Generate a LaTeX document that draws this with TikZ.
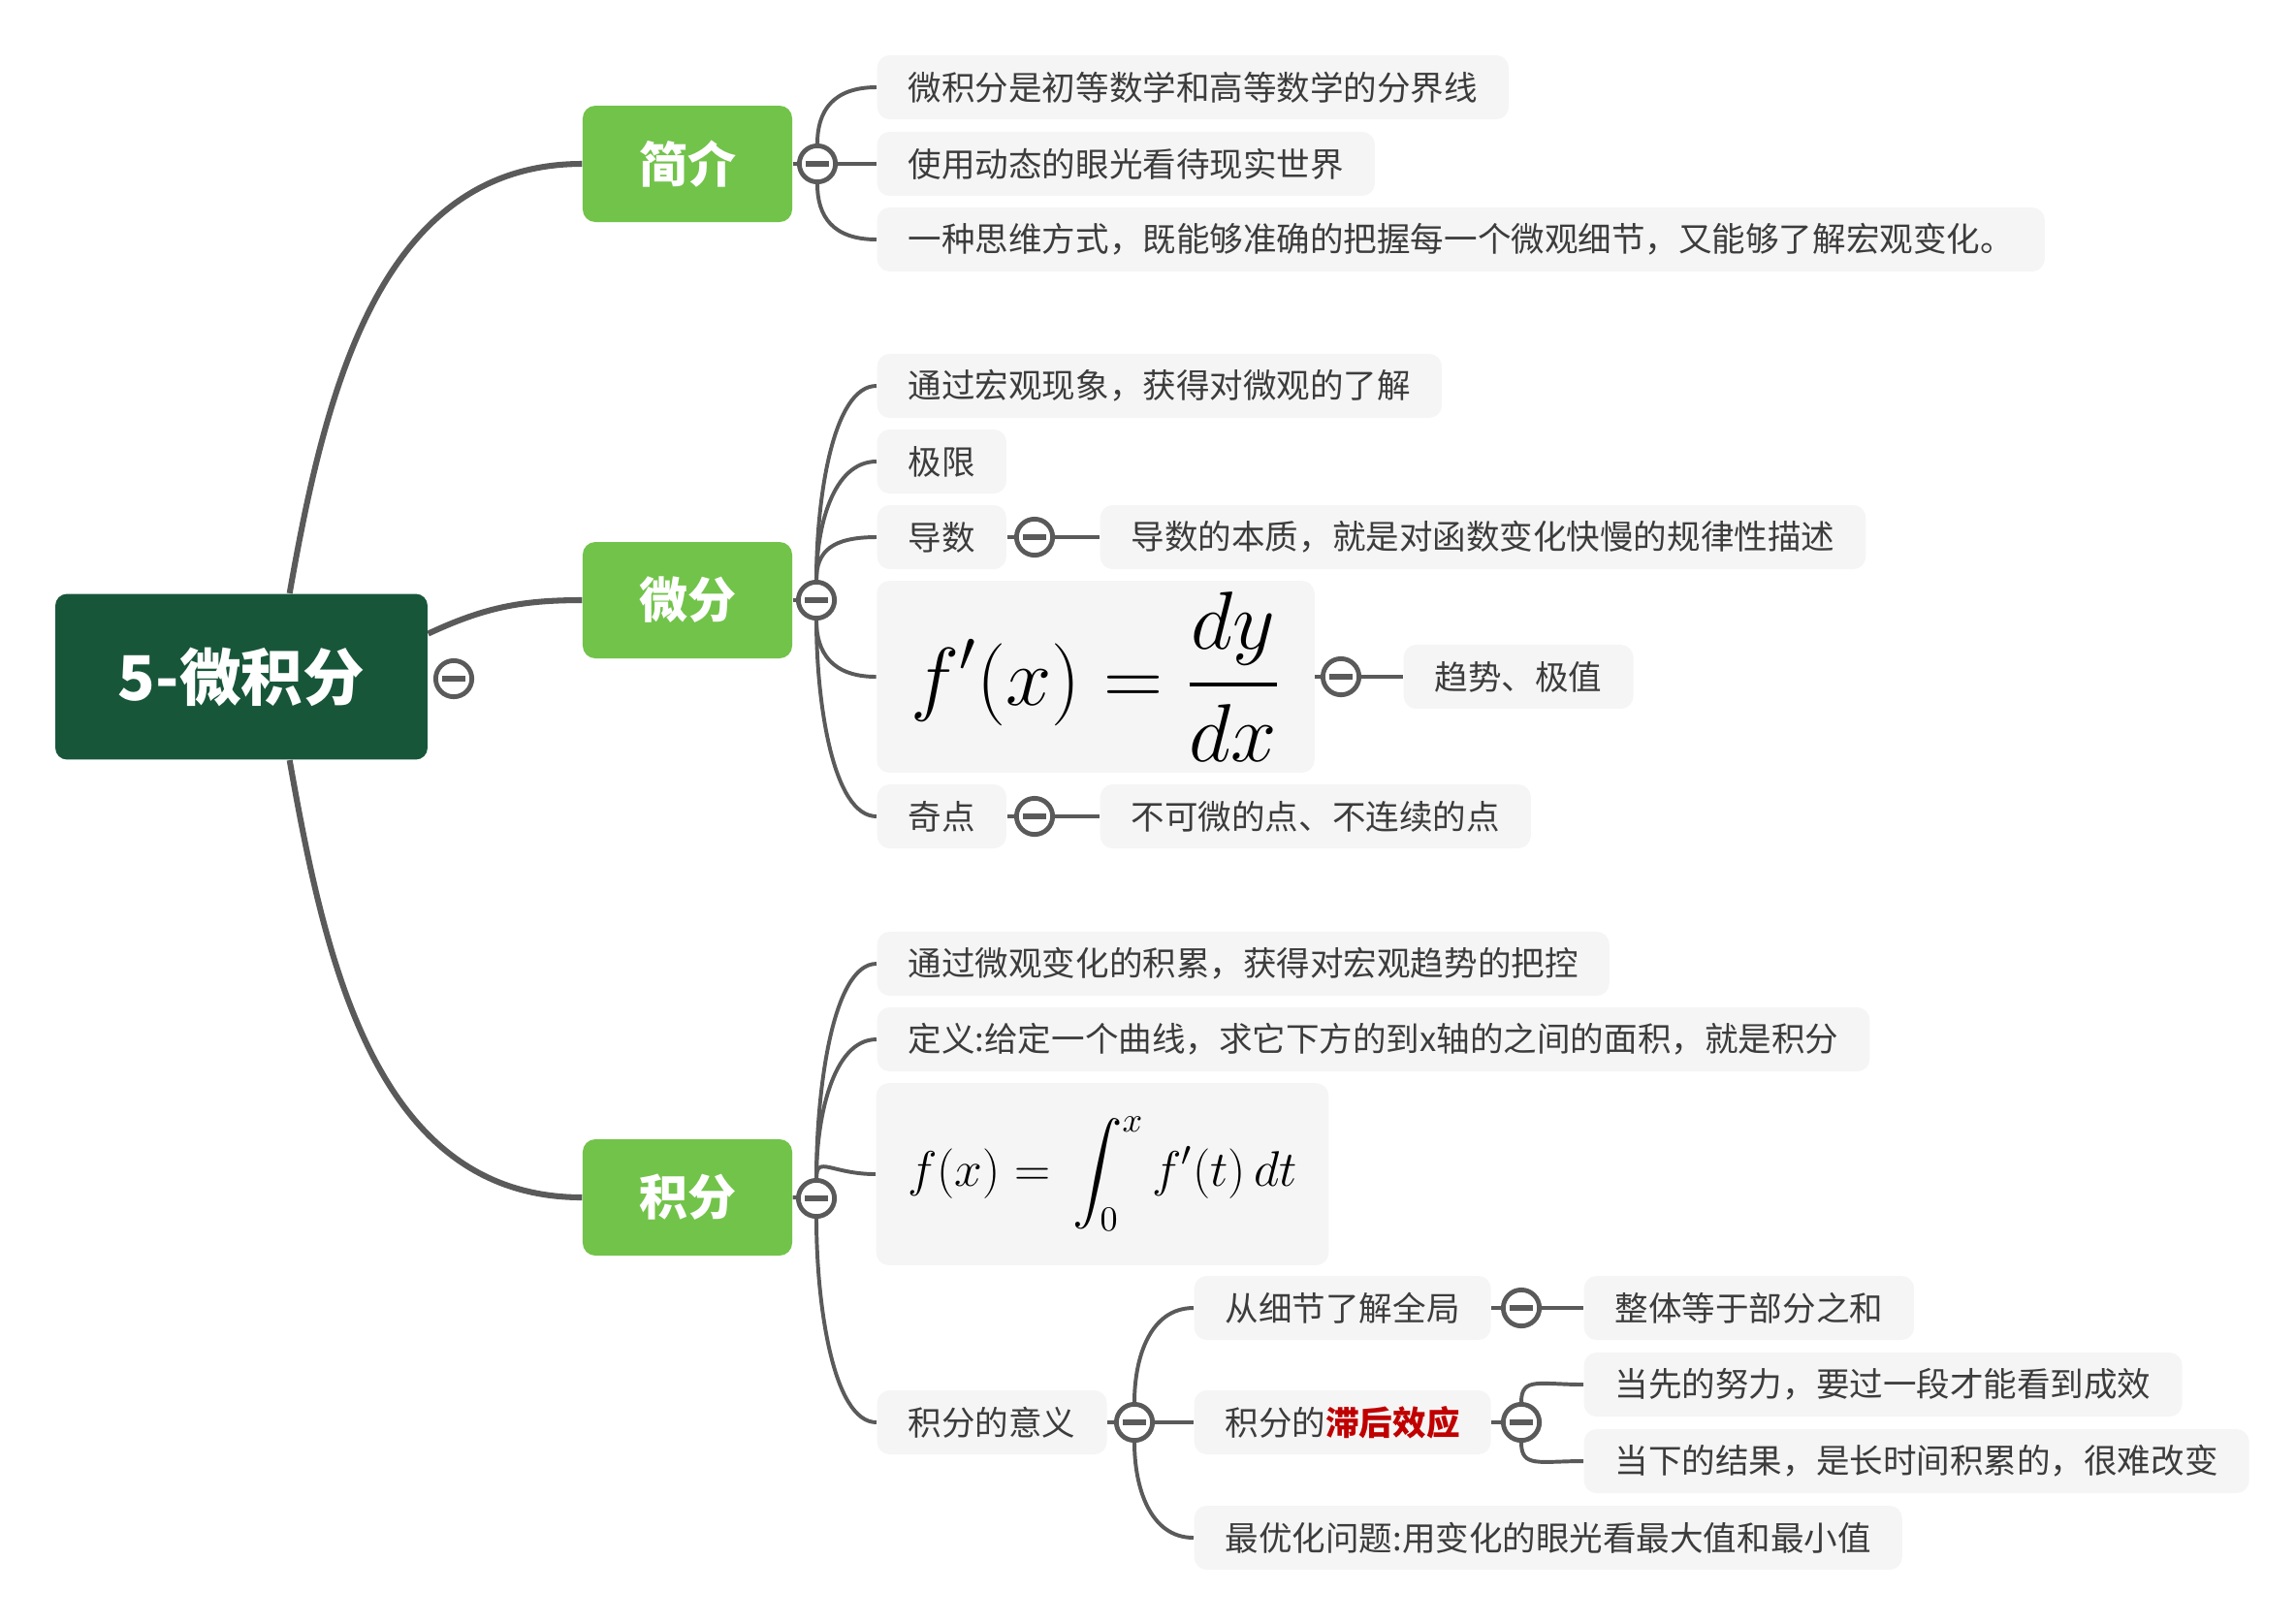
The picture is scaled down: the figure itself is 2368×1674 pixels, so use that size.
\documentclass[tikz,border=0pt]{standalone}
\usepackage{fix-cm}
\usepackage[no-math]{fontspec}
\setmainfont{Noto Sans CJK SC}
\DeclareFontShape{OMX}{cmex}{m}{n}{<->cmex10}{}
\usetikzlibrary{backgrounds}

\definecolor{rootgreen}{HTML}{18563A}
\definecolor{maingreen}{HTML}{72C34A}
\definecolor{leafgray}{HTML}{F5F5F5}
\definecolor{linegray}{HTML}{5A5A5A}
\definecolor{textgray}{HTML}{3C3C3C}
\definecolor{lagred}{HTML}{C00000}

\tikzset{
  rootbox/.style={rectangle, rounded corners=4pt, fill=rootgreen, text=white, font=\fontsize{21}{25}\selectfont\bfseries, minimum width=126.7pt, minimum height=56.4pt},
  mainbox/.style={rectangle, rounded corners=4.3pt, fill=maingreen, text=white, font=\fontsize{16.5}{20}\selectfont\bfseries, minimum width=71.3pt, minimum height=39.6pt},
  leaf/.style={rectangle, rounded corners=4.3pt, fill=leafgray, text=textgray, font=\fontsize{11.4}{14}\selectfont, inner xsep=10.6pt, inner ysep=0pt, minimum height=21.8pt, anchor=west},
  mathbox/.style={rectangle, rounded corners=4.3pt, fill=leafgray, inner sep=0pt},
  fold/.style={circle, draw=linegray, line width=1.6pt, fill=white, minimum size=12.3pt, inner sep=0pt,
    path picture={\draw[linegray, line width=2pt] ([xshift=-4pt]path picture bounding box.center) -- ([xshift=4pt]path picture bounding box.center);}},
  trunk/.style={draw=linegray, line width=2pt},
  twig/.style={draw=linegray, line width=1.3pt},
  goup/.style={out=90, in=180, in distance=15pt},
  godown/.style={out=-90, in=180, in distance=15pt},
}

\begin{document}
\begin{tikzpicture}[x=0.33pt, y=-0.33pt]
    \useasboundingbox (0,0) rectangle (2368,1674);

    \node[rootbox] (calc)  at (249,698)  {5-微积分};
    \node[fold]    (fcalc) at (468,700)  {};
    \node[mainbox] (intro) at (709,169)  {简介};
    \node[mainbox] (diff)  at (709,619)  {微分};
    \node[mainbox] (integ) at (709,1235) {积分};
    \node[fold] (fintro) at (843,169)  {};
    \node[fold] (fdiff)  at (842,619)  {};
    \node[fold] (finteg) at (842,1236) {};

    % 简介
    \node[leaf] (intro1) at (904,90)  {微积分是初等数学和高等数学的分界线};
    \node[leaf] (intro2) at (904,169) {使用动态的眼光看待现实世界};
    \node[leaf] (intro3) at (904,247) {一种思维方式，既能够准确的把握每一个微观细节，又能够了解宏观变化。};

    % 微分
    \node[leaf] (diff1)  at (904,398) {通过宏观现象，获得对微观的了解};
    \node[leaf] (limit)  at (904,476) {极限};
    \node[leaf] (deriv)  at (904,554) {导数};
    \node[fold] (fderiv) at (1067,554) {};
    \node[leaf] (deriva) at (1134,554) {导数的本质，就是对函数变化快慢的规律性描述};
    \node[mathbox, minimum width=149pt, minimum height=65.3pt] (dform) at (1130,698)
        {\fontsize{28}{33}\selectfont$\displaystyle f'(x)=\frac{dy}{dx}$};
    \node[fold] (fdform) at (1383,698) {};
    \node[leaf] (dforma) at (1447,698) {趋势、极值};
    \node[leaf] (sing)   at (904,842)  {奇点};
    \node[fold] (fsing)  at (1067,842) {};
    \node[leaf] (singa)  at (1134,842) {不可微的点、不连续的点};

    % 积分
    \node[leaf] (integ1) at (904,994)  {通过微观变化的积累，获得对宏观趋势的把控};
    \node[leaf] (integ2) at (904,1072) {定义:给定一个曲线，求它下方的到x轴的之间的面积，就是积分};
    \node[mathbox, minimum width=154pt, minimum height=62pt] (iform) at (1137,1211)
        {\fontsize{17}{20}\selectfont$\displaystyle f(x) =\, \int_0^x f'(t)\, dt$};
    \node[leaf] (mean)   at (904,1467)  {积分的意义};
    \node[fold] (fmean)  at (1170,1467) {};
    \node[leaf] (whole)  at (1231,1349) {从细节了解全局};
    \node[fold] (fwhole) at (1569,1349) {};
    \node[leaf] (wholea) at (1633,1349) {整体等于部分之和};
    \node[leaf] (lag)    at (1231,1467) {积分的\textcolor{lagred}{\bfseries 滞后效应}};
    \node[fold] (flag)   at (1569,1467) {};
    \node[leaf] (laga)   at (1633,1428) {当先的努力，要过一段才能看到成效};
    \node[leaf] (lagb)   at (1633,1507) {当下的结果，是长时间积累的，很难改变};
    \node[leaf] (optim)  at (1231,1586) {最优化问题:用变化的眼光看最大值和最小值};

    \begin{scope}[on background layer]
        \draw[trunk] (calc.60)  to[out=80, in=180]  (intro.west);
        \draw[trunk] (calc.13)  to[out=25, in=180]  (diff.west);
        \draw[trunk] (calc.-60) to[out=-80, in=180] (integ.west);

        \draw[twig] (intro.east) -- (fintro);
        \draw[twig] (fintro) to[goup] (intro1.west);
        \draw[twig] (fintro) -- (intro2.west);
        \draw[twig] (fintro) to[godown] (intro3.west);

        \draw[twig] (diff.east) -- (fdiff);
        \draw[twig] (fdiff) to[goup] (diff1.west);
        \draw[twig] (fdiff) to[goup] (limit.west);
        \draw[twig] (fdiff) to[goup] (deriv.west);
        \draw[twig] (fdiff) to[godown] (dform.west);
        \draw[twig] (fdiff) to[godown] (sing.west);
        \draw[twig] (deriv.east) -- (fderiv) -- (deriva.west);
        \draw[twig] (dform.east) -- (fdform) -- (dforma.west);
        \draw[twig] (sing.east) -- (fsing) -- (singa.west);

        \draw[twig] (integ.east) -- (finteg);
        \draw[twig] (finteg) to[goup] (integ1.west);
        \draw[twig] (finteg) to[goup] (integ2.west);
        \draw[twig] (finteg) to[goup] (iform.west);
        \draw[twig] (finteg) to[godown] (mean.west);
        \draw[twig] (mean.east) -- (fmean);
        \draw[twig] (fmean) to[goup] (whole.west);
        \draw[twig] (fmean) -- (lag.west);
        \draw[twig] (fmean) to[godown] (optim.west);
        \draw[twig] (whole.east) -- (fwhole) -- (wholea.west);
        \draw[twig] (lag.east) -- (flag);
        \draw[twig] (flag) to[goup] (laga.west);
        \draw[twig] (flag) to[godown] (lagb.west);
    \end{scope}
\end{tikzpicture}
\end{document}
